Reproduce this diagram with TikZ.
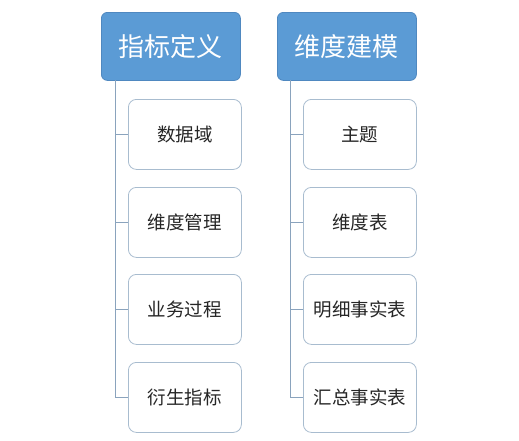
\documentclass[tikz,border=0pt]{standalone}
\usepackage{fontspec}
\setmainfont{Noto Sans CJK SC}
\begin{document}
\begin{tikzpicture}[x=1pt,y=-1pt,
  header/.style={rectangle,rounded corners=6pt,fill=hdrblue,draw=hdrborder,line width=0.8pt,
     minimum width=139pt,minimum height=68pt,text=white,font=\fontsize{26}{30}\selectfont,anchor=north west,inner sep=0pt},
  child/.style={rectangle,rounded corners=8pt,fill=white,draw=childborder,line width=0.8pt,
     minimum width=113pt,minimum height=70pt,text=black!85,font=\fontsize{18.5}{22}\selectfont,anchor=north west,inner sep=0pt},
  conn/.style={draw=linecol,line width=1pt}]
\definecolor{hdrblue}{HTML}{5B9BD5}
\definecolor{hdrborder}{HTML}{4F88C0}
\definecolor{childborder}{HTML}{A8BCCF}
\definecolor{linecol}{HTML}{8AA3BD}
\useasboundingbox (0,0) rectangle (519,440);
% left column
\node[header] (h1) at (101,12) {指标定义};
\node[child] (a1) at (128,99) {数据域};
\node[child] (a2) at (128,187) {维度管理};
\node[child] (a3) at (128,274) {业务过程};
\node[child] (a4) at (128,362) {衍生指标};
\coordinate (t1) at (115,80);
\draw[conn] (t1) -- (t1 |- a4.west) -- (a4.west);
\foreach \n in {a1,a2,a3} { \draw[conn] (t1 |- \n.west) -- (\n.west); }
% right column
\node[header] (h2) at (277,12) {维度建模};
\node[child] (c1) at (303,99) {主题};
\node[child] (c2) at (303,187) {维度表};
\node[child] (c3) at (303,274) {明细事实表};
\node[child] (c4) at (303,362) {汇总事实表};
\coordinate (t2) at (290,80);
\draw[conn] (t2) -- (t2 |- c4.west) -- (c4.west);
\foreach \n in {c1,c2,c3} { \draw[conn] (t2 |- \n.west) -- (\n.west); }
\end{tikzpicture}
\end{document}
